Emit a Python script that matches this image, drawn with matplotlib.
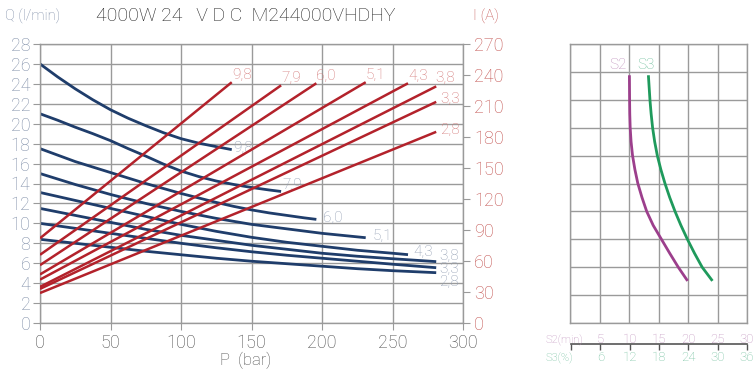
import matplotlib
matplotlib.use('Agg')
import matplotlib.pyplot as plt

plt.rcParams['font.family'] = ['Roboto', 'Liberation Sans', 'DejaVu Sans']
plt.rcParams['font.weight'] = 'light'
plt.rcParams['axes.labelweight'] = 'light'

# Q (l/min) vs P (bar), one curve per motor power (kW)
power_labels = ['9,8', '7,9', '6,0', '5,1', '4,3', '3,8', '3,3', '2,8']
q_pressure = [
    [0, 12.5, 25, 37.5, 50, 62.5, 75, 87.5, 100, 112.5, 125, 136],
    [0, 12.5, 25, 37.5, 50, 62.5, 75, 87.5, 100, 112.5, 125, 137.5, 150, 162.5, 171],
    [0, 12.5, 25, 37.5, 50, 62.5, 75, 87.5, 100, 112.5, 125, 137.5, 150, 162.5, 175, 187.5, 196],
    [0, 25, 50, 75, 100, 125, 150, 175, 200, 231],
    [0, 25, 50, 75, 100, 125, 150, 175, 200, 225, 250, 261],
    [0, 25, 50, 75, 100, 125, 150, 175, 200, 225, 250, 281],
    [0, 25, 50, 75, 100, 125, 150, 175, 200, 225, 250, 281],
    [0, 25, 50, 75, 100, 125, 150, 175, 200, 225, 250, 281],
]
q_flow = [
    [26.0, 24.7, 23.5, 22.4, 21.4, 20.55, 19.8, 19.1, 18.5, 18.05, 17.7, 17.4],
    [21.0, 20.35, 19.65, 19.0, 18.3, 17.5, 16.75, 15.95, 15.25, 14.7, 14.25, 13.9, 13.6, 13.35, 13.2],
    [17.5, 16.85, 16.2, 15.65, 15.1, 14.55, 14.0, 13.5, 13.0, 12.55, 12.1, 11.7, 11.35, 11.05, 10.8, 10.55, 10.4],
    [15.0, 13.9, 12.9, 12.0, 11.2, 10.5, 9.9, 9.45, 9.0, 8.56],
    [13.1, 12.3, 11.5, 10.7, 9.9, 9.2, 8.6, 8.1, 7.7, 7.3, 7.0, 6.86],
    [11.5, 10.8, 10.1, 9.4, 8.8, 8.3, 7.8, 7.4, 7.0, 6.7, 6.45, 6.16],
    [10.0, 9.5, 9.0, 8.5, 8.0, 7.55, 7.15, 6.8, 6.5, 6.2, 5.9, 5.55],
    [8.4, 8.0, 7.6, 7.2, 6.85, 6.5, 6.2, 5.95, 5.7, 5.45, 5.25, 5.05],
]

# I (A) vs P (bar), straight lines: start and end
i_pressure = [[0, 136], [0, 171], [0, 196], [0, 231], [0, 261], [0, 281], [0, 281], [0, 281]]
i_current = [[82, 233], [66, 230], [56, 232], [47, 233], [42, 232], [35, 229], [33, 214], [29, 185]]

# duty cycle panel (x in S2 minutes, y in grid rows)
s2_x = [10.07, 10.1, 10.13, 10.2, 10.35, 10.6, 11.0, 11.5, 12.2, 13.0, 14.1, 15.5, 16.9, 18.35, 19.8]
s2_y = [8.83, 8.0, 7.5, 7.0, 6.5, 6.0, 5.5, 5.0, 4.5, 4.0, 3.5, 3.0, 2.5, 2.0, 1.55]
s3_x = [13.3, 13.55, 13.75, 14.0, 14.35, 14.8, 15.4, 16.1, 16.9, 17.8, 18.8, 19.9, 21.1, 22.4, 24.0]
s3_y = [8.83, 8.0, 7.5, 7.0, 6.5, 6.0, 5.5, 5.0, 4.5, 4.0, 3.5, 3.0, 2.5, 2.0, 1.55]
s2_ticks = [5, 10, 15, 20, 25, 30]
s3_ticks = [6, 12, 18, 24, 30, 36]

blue = '#1f3d6b'
red = '#b3222b'
grid_c = '#9a9a9a'
blue_txt = '#909cb1'
red_txt = '#d27474'
left_txt = '#7d8ca6'
right_txt = '#c2514e'
s2_txt = '#c092bd'
s3_txt = '#72c09e'

W, H = 755, 370
fig = plt.figure(figsize=(W / 100, H / 100), dpi=100)

ax = fig.add_axes([40 / W, 1 - 323 / H, 423 / W, 279 / H])
ax.set_xlim(0, 300)
ax.set_ylim(0, 28)
ax.set_xticks(range(0, 301, 50))
ax.set_yticks(range(0, 29, 2))
ax.grid(True, color=grid_c, lw=1.0)
ax.set_axisbelow(True)
for s in ax.spines.values():
    s.set_color(grid_c)
    s.set_linewidth(1.0)
ax.tick_params(axis='y', colors=grid_c, labelcolor=left_txt, labelsize=13, length=5, pad=2)
ax.tick_params(axis='x', colors=grid_c, labelcolor='#4a4a4a', labelsize=13, length=5, pad=3)
ax.set_xlabel('P  (bar)', fontsize=12, color='#4a4a4a')
ax.xaxis.set_label_coords(0.485, -0.105)

axi = ax.twinx()
axi.set_ylim(0, 270)
axi.set_yticks(range(0, 271, 30))
axi.tick_params(axis='y', colors=grid_c, labelcolor=right_txt, labelsize=13, length=5, pad=3)
for s in axi.spines.values():
    s.set_visible(False)

for lab, p, q in zip(power_labels, q_pressure, q_flow):
    ax.plot(p, q, color=blue, lw=2.0, solid_capstyle='butt')

blue_offsets = {'9,8': (1, 1), '7,9': (1, 5), '6,0': (5, 1), '5,1': (5, 1),
                '4,3': (4, 2), '3,8': (2, 4), '3,3': (2, -1), '2,8': (2, -7)}
for lab, p, q in zip(power_labels, q_pressure, q_flow):
    dx, dy = blue_offsets[lab]
    ax.annotate(lab, (p[-1], q[-1]), xytext=(dx, dy), textcoords='offset points',
                color=blue_txt, fontsize=11, va='center', ha='left')

for lab, p, c in zip(power_labels, i_pressure, i_current):
    axi.plot(p, c, color=red, lw=1.8, solid_capstyle='butt')

red_offsets = {'9,8': (0, 5), '7,9': (0, 5), '6,0': (0, 5), '5,1': (0, 5),
               '4,3': (0, 5), '3,8': (-1, 6), '3,3': (3, 2), '2,8': (3, 1)}
for lab, p, c in zip(power_labels, i_pressure, i_current):
    dx, dy = red_offsets[lab]
    axi.annotate(lab, (p[-1], c[-1]), xytext=(dx, dy), textcoords='offset points',
                 color=red_txt, fontsize=11, va='center', ha='left')

fig.text(5 / W, 1 - 16 / H, 'Q (l/min)', color=left_txt, fontsize=10.5, va='center', ha='left')
fig.text(246 / W, 1 - 16 / H, '4000W 24   V D C  M244000VHDHY', color='#222222',
         fontsize=14, va='center', ha='center')
fig.text(473 / W, 1 - 16 / H, 'I (A)', color=right_txt, fontsize=11, va='center', ha='left')

# right panel: S2 / S3 duty
axr = fig.add_axes([570 / W, 1 - 323 / H, 177 / W, 279 / H])
axr.set_xlim(0, 30)
axr.set_ylim(0, 10)
axr.set_xticks(range(0, 31, 5))
axr.set_yticks(range(0, 11))
axr.grid(True, color=grid_c, lw=1.0)
axr.tick_params(length=0, labelbottom=False, labelleft=False)
for s in axr.spines.values():
    s.set_color(grid_c)
    s.set_linewidth(1.0)
axr.plot(s2_x, s2_y, color='#9c3f8c', lw=2.0)
axr.plot(s3_x, s3_y, color='#1f9a5c', lw=2.0)
axr.text(8.2, 9.25, 'S2', color=s2_txt, fontsize=11, ha='center', va='center')
axr.text(12.8, 9.25, 'S3', color=s3_txt, fontsize=11, ha='center', va='center')

axs = fig.add_axes([571 / W, 1 - 344 / H, 176 / W, 1 / H])
axs.set_xlim(0, 30)
axs.patch.set_visible(False)
for k in ['left', 'right', 'top']:
    axs.spines[k].set_visible(False)
axs.spines['bottom'].set_color('#555555')
axs.spines['bottom'].set_linewidth(1.2)
axs.set_yticks([])
axs.set_xticks([0] + s2_ticks)
axs.set_xticklabels([''] + [str(t) for t in s2_ticks])
axs.tick_params(axis='x', bottom=True, top=False, labelbottom=False, labeltop=True,
                direction='out', length=4, width=1.0, colors='#555555', labelcolor=s2_txt,
                labelsize=9.5, pad=-6)
sec = axs.secondary_xaxis('bottom', functions=(lambda v: v * 1.2, lambda v: v / 1.2))
sec.set_xticks(s3_ticks)
sec.spines['bottom'].set_visible(False)
sec.tick_params(length=0, labelcolor=s3_txt, labelsize=9.5, pad=5)
fig.text(546 / W, 1 - 340 / H, 'S2(min)', color=s2_txt, fontsize=8, va='center', ha='left')
fig.text(546 / W, 1 - 358 / H, 'S3(%)', color=s3_txt, fontsize=8, va='center', ha='left')

fig.savefig('out.png', dpi=100)
